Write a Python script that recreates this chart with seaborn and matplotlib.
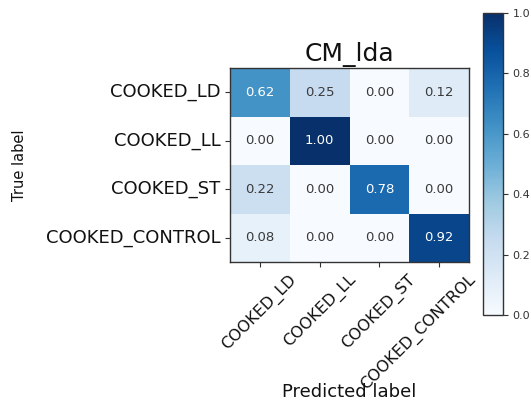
import matplotlib
matplotlib.use("Agg")
import matplotlib.pyplot as plt
import matplotlib.transforms as mtransforms
import seaborn as sns
import numpy as np

# confusion matrix values
classes = ['COOKED_LD', 'COOKED_LL', 'COOKED_ST', 'COOKED_CONTROL']
row_ld = [0.62, 0.25, 0.00, 0.12]
row_ll = [0.00, 1.00, 0.00, 0.00]
row_st = [0.22, 0.00, 0.78, 0.00]
row_control = [0.08, 0.00, 0.00, 0.92]
cbar_ticks = [0.0, 0.2, 0.4, 0.6, 0.8, 1.0]

cm = np.array([row_ld, row_ll, row_st, row_control])

fig = plt.figure(figsize=(5.31, 4.0), dpi=100)
ax = fig.add_axes([230 / 531, 1 - 262 / 400, 239 / 531, 194 / 400])
cax = fig.add_axes([483 / 531, 1 - 315 / 400, 20 / 531, 302 / 400])

sns.heatmap(cm, ax=ax, cbar_ax=cax, cmap='Blues', vmin=0, vmax=1,
            annot=False, xticklabels=classes, yticklabels=classes)

# annotate like the sklearn example
thresh = cm.max() / 2.
for i in range(cm.shape[0]):
    for j in range(cm.shape[1]):
        ax.text(j + 0.5, i + 0.5, format(cm[i, j], '.2f'),
                ha='center', va='center', fontsize=9.5,
                color='white' if cm[i, j] > thresh else '#3a3a3a')

# frame back on
for sp in ax.spines.values():
    sp.set_visible(True)
    sp.set_color('#333333')
    sp.set_linewidth(1.0)

ax.tick_params(axis='both', length=3.5, width=0.8, colors='#333333',
               labelcolor='#111111')
ax.tick_params(axis='y', labelsize=13)
ax.tick_params(axis='x', labelsize=11.5)
plt.setp(ax.get_yticklabels(), rotation=0)

# x labels: right-aligned, shifted a bit to the right of their ticks
shift = mtransforms.ScaledTranslation(0.40, 0, fig.dpi_scale_trans)
for lab in ax.get_xticklabels():
    lab.set_rotation(45)
    lab.set_ha('right')
    lab.set_transform(lab.get_transform() + shift)

ax.set_title('CM_lda', fontsize=18, color='#111111', pad=5)
ax.set_ylabel('True label', fontsize=10.5, color='#111111')
ax.set_xlabel('Predicted label', fontsize=13, color='#111111')
ax.yaxis.set_label_coords(-0.85, 0.5)
ax.xaxis.set_label_coords(0.5, -0.625)

cb = ax.collections[0].colorbar
cb.set_ticks(cbar_ticks)
cb.outline.set_visible(True)
cb.outline.set_linewidth(1.0)
cb.outline.set_edgecolor('#333333')
cax.tick_params(labelsize=8, length=3.5, colors='#333333')

fig.savefig('out.png', dpi=100)
